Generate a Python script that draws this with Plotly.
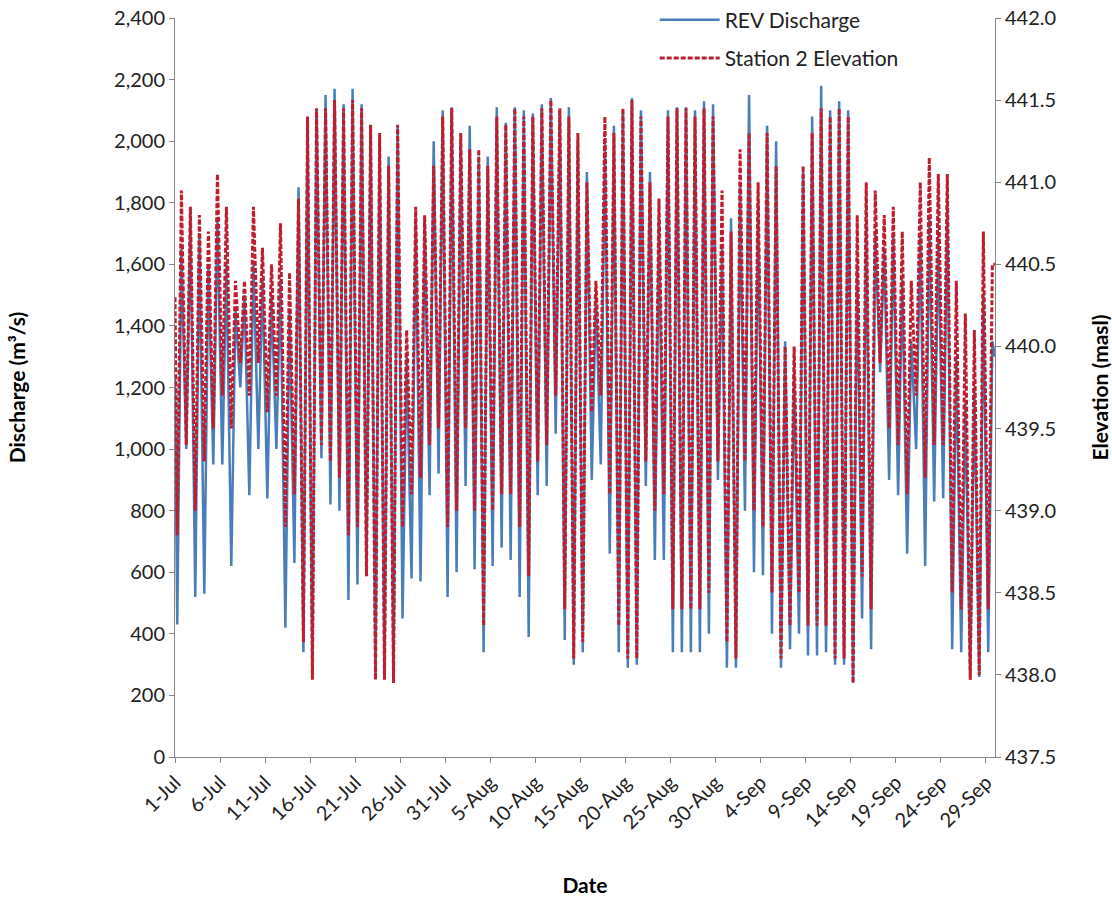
import datetime as dt
import plotly.graph_objects as go

# ---- data (daily high / low, Jul 1 .. Sep 29) ----
START_DATE = "2013-07-01"
START_Q = 1230
START_E = 440.3
END_Q = 1300
END_E = 440.5

Q_HI = [1650, 1750, 1700, 1600, 1750, 1600, 1450, 1500, 1600, 1550,
        1500, 1550, 1450, 1850, 2050, 2100, 2150, 2170, 2120, 2170,
        2120, 2050, 2000, 1950, 2050, 1300, 1750, 1750, 2000, 2100,
        2110, 2000, 2050, 1950, 1950, 2110, 2060, 2110, 2100, 2090,
        2120, 2140, 2100, 2110, 2000, 1900, 1500, 2000, 2050, 2100,
        2140, 2100, 1900, 1750, 2100, 2110, 2110, 2100, 2130, 2120,
        1650, 1750, 1850, 2150, 1800, 2050, 2000, 1350, 1250, 1900,
        2080, 2180, 2100, 2130, 2100, 1600, 1750, 1700, 1650, 1700,
        1550, 1350, 1700, 1750, 1700, 1800, 1300, 1150, 1200, 1500,
        1350]
Q_LO = [430, 1000, 520, 530, 950, 950, 620, 1200, 850, 1000,
        840, 1000, 420, 630, 340, 270, 970, 820, 800, 510,
        560, 640, 260, 260, 250, 450, 580, 570, 850, 920,
        520, 600, 880, 610, 340, 620, 680, 640, 520, 390,
        850, 880, 1050, 380, 300, 340, 900, 950, 660, 340,
        290, 300, 880, 640, 640, 340, 340, 340, 340, 400,
        900, 290, 290, 800, 600, 590, 400, 290, 350, 400,
        330, 330, 340, 300, 300, 240, 450, 350, 1250, 900,
        850, 660, 1000, 620, 830, 840, 350, 340, 260, 260,
        340]
E_HI = [440.95, 440.85, 440.80, 440.70, 441.05, 440.85, 440.40, 440.40, 440.85, 440.60,
        440.50, 440.75, 440.45, 440.90, 441.40, 441.45, 441.45, 441.50, 441.45, 441.50,
        441.45, 441.35, 441.30, 441.10, 441.35, 440.10, 440.85, 440.80, 441.10, 441.40,
        441.45, 441.30, 441.20, 441.20, 441.10, 441.40, 441.35, 441.45, 441.40, 441.40,
        441.45, 441.50, 441.45, 441.40, 441.30, 441.00, 440.40, 441.40, 441.30, 441.45,
        441.50, 441.40, 441.00, 440.90, 441.40, 441.45, 441.45, 441.40, 441.45, 441.40,
        440.95, 440.70, 441.20, 441.30, 441.00, 441.30, 441.10, 440.00, 440.00, 441.10,
        441.30, 441.45, 441.40, 441.45, 441.40, 440.80, 441.00, 440.95, 440.80, 440.85,
        440.70, 440.40, 441.00, 441.15, 441.05, 441.05, 440.40, 440.20, 440.10, 440.70,
        440.50]
E_LO = [438.85, 439.40, 439.00, 439.30, 439.50, 439.70, 439.50, 439.90, 439.70, 439.90,
        439.60, 439.70, 438.90, 439.10, 438.20, 437.97, 439.40, 439.30, 439.20, 438.85,
        438.90, 438.60, 437.97, 437.97, 437.95, 438.90, 439.10, 439.20, 439.40, 439.50,
        438.90, 439.00, 439.50, 439.00, 438.30, 439.00, 439.10, 439.10, 438.90, 438.60,
        439.30, 439.40, 439.70, 438.40, 438.10, 438.20, 439.60, 439.70, 439.10, 438.30,
        438.10, 438.10, 439.30, 439.00, 439.10, 438.40, 438.40, 438.40, 438.40, 438.50,
        439.30, 438.20, 438.10, 439.30, 439.00, 438.90, 438.50, 438.10, 438.30, 438.50,
        438.30, 438.30, 438.30, 438.10, 438.10, 437.95, 438.60, 438.40, 439.90, 439.50,
        439.40, 439.10, 439.70, 439.20, 439.40, 439.40, 438.50, 438.40, 437.97, 438.00,
        438.40]

# ---- build time series (one low and one high per day) ----
t0 = dt.datetime.fromisoformat(START_DATE)
times, q, e = [t0], [START_Q], [START_E]
for d in range(len(Q_HI)):
    day = t0 + dt.timedelta(days=d)
    times += [day + dt.timedelta(hours=6), day + dt.timedelta(hours=17)]
    q += [Q_LO[d], Q_HI[d]]
    e += [E_LO[d], E_HI[d]]
times.append(t0 + dt.timedelta(days=len(Q_HI)))
q.append(END_Q)
e.append(END_E)

BLUE = "#4A7EBB"
RED = "#BE1E2D"
FONT = "Lato, 'Open Sans', sans-serif"

fig = go.Figure()
fig.add_trace(go.Scatter(x=times, y=q, mode="lines", name="REV Discharge",
                         legendgroup="a",
                         line=dict(color=BLUE, width=2.5), yaxis="y"))
fig.add_trace(go.Scatter(x=times, y=e, mode="lines", name="Station 2 Elevation",
                         legendgroup="b",
                         line=dict(color=RED, width=3, dash="5px,2px"), yaxis="y2"))

axis_common = dict(showline=True, linecolor="#868686", linewidth=1, ticks="outside",
                   tickcolor="#868686", ticklen=5, showgrid=False, zeroline=False,
                   automargin=False,
                   tickfont=dict(size=20, color="#222", family=FONT))

fig.update_layout(
    width=1112, height=898,
    margin=dict(l=175, r=117, t=18, b=141, autoexpand=False),
    paper_bgcolor="white", plot_bgcolor="white",
    font=dict(family=FONT, color="#000"),
    showlegend=True,
    legend=dict(x=0.585, y=1.025, xanchor="left", yanchor="top",
                bgcolor="rgba(0,0,0,0)", font=dict(size=21, color="#222", family=FONT),
                tracegroupgap=8, itemwidth=60),
    xaxis=dict(type="date", range=[t0, t0 + dt.timedelta(days=91)],
               tick0=START_DATE, dtick=5 * 86400000, tickformat="%-d-%b",
               tickangle=-45,
               title=dict(text="<b>Date</b>", font=dict(size=21, family=FONT), standoff=46),
               **axis_common),
    yaxis=dict(range=[0, 2400], dtick=200, tickformat=",",
               title=dict(text="<b>Discharge (m³/s)</b>", font=dict(size=21, family=FONT), standoff=82),
               **axis_common),
    yaxis2=dict(range=[437.5, 442.0], dtick=0.5, tickformat=".1f", overlaying="y", side="right",
                title=dict(text="<b>Elevation (masl)</b>", font=dict(size=21, family=FONT), standoff=40),
                **axis_common),
)

fig.write_html("out.html")
